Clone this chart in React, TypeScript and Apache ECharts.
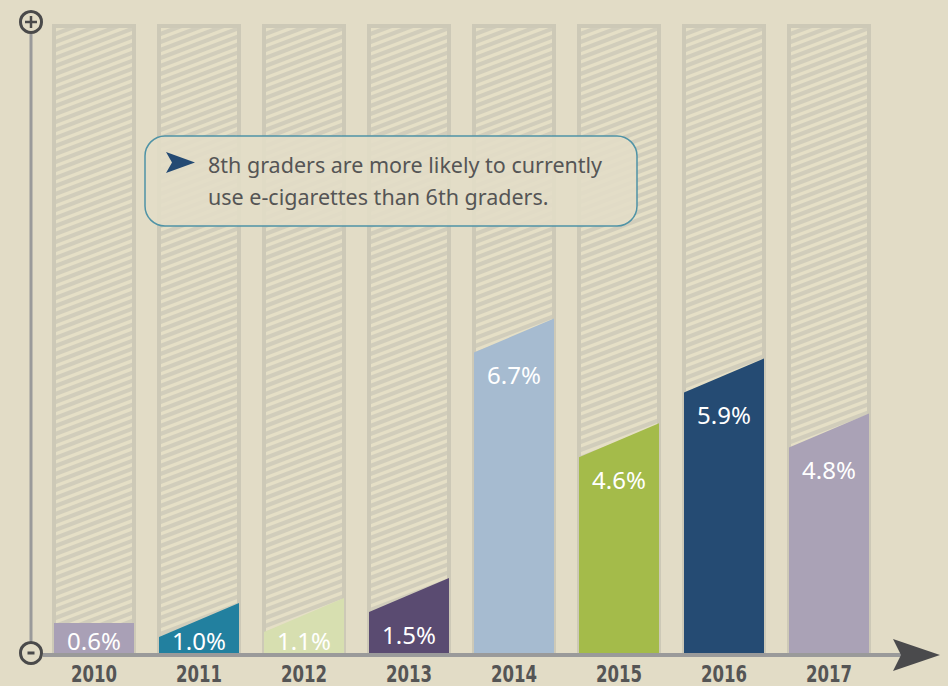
import React, { useEffect, useRef } from "react";
import * as echarts from "echarts";

const years = ["2010", "2011", "2012", "2013", "2014", "2015", "2016", "2017"];
const values = [0.6, 1.0, 1.1, 1.5, 6.7, 4.6, 5.9, 4.8];
const barColors = ["#a9a0b6", "#22809f", "#d7dfb0", "#5a4b71", "#a6bbd0", "#a4bb4a", "#254b73", "#aaa2b6"];
const yMax = 12.6;
const calloutLines = ["8th graders are more likely to currently", "use e-cigarettes than 6th graders."];

type Pt = number[];
function clipPoly(poly: Pt[], f: (p: Pt) => number): Pt[] {
  const out: Pt[] = [];
  for (let i = 0; i < poly.length; i++) {
    const a = poly[i];
    const b = poly[(i + 1) % poly.length];
    const fa = f(a);
    const fb = f(b);
    if (fa >= 0) out.push(a);
    if ((fa >= 0) !== (fb >= 0)) {
      const t = fa / (fa - fb);
      out.push([a[0] + (b[0] - a[0]) * t, a[1] + (b[1] - a[1]) * t]);
    }
  }
  return out;
}

export default function App() {
  const ref = useRef<HTMLDivElement>(null);
  useEffect(() => {
    if (!ref.current) return;
    const chart = echarts.init(ref.current, undefined, { renderer: "svg" });
    const slope = 0.38;
    const period = 8;
    const lightW = 3.6;

    const option: any = {
      animation: false,
      backgroundColor: "transparent",
      grid: { left: 41.5, right: 66.5, top: 24, bottom: 33 },
      xAxis: {
        type: "category",
        data: years,
        axisLine: { show: false },
        axisTick: { show: false },
        axisLabel: { show: false },
      },
      yAxis: { type: "value", min: 0, max: yMax, show: false },
      series: [
        {
          type: "custom",
          name: "columns",
          data: years.map((_, i) => [i, yMax]),
          encode: { x: 0, y: 1 },
          silent: true,
          clip: false,
          z: 1,
          renderItem: (params: any, api: any) => {
            const i = api.value(0);
            const topP = api.coord([i, api.value(1)]);
            const baseP = api.coord([i, 0]);
            const bw = api.size([1, 0])[0] * 0.8;
            const x0 = topP[0] - bw / 2;
            const children: any[] = [
              { type: "rect", shape: { x: x0, y: topP[1], width: bw, height: baseP[1] - topP[1] }, style: { fill: "#cdc9b7" } },
            ];
            const ix0 = x0 + 4;
            const ix1 = x0 + bw - 4;
            const iy0 = topP[1] + 4;
            const iy1 = baseP[1];
            children.push({ type: "rect", shape: { x: ix0, y: iy0, width: ix1 - ix0, height: iy1 - iy0 }, style: { fill: "#d1cdbb" } });
            const rectPoly: Pt[] = [[ix0, iy0], [ix1, iy0], [ix1, iy1], [ix0, iy1]];
            const g = (p: Pt) => p[1] + slope * (p[0] - ix0);
            const gMin = iy0;
            const gMax = iy1 + slope * (ix1 - ix0);
            for (let c = gMin - period; c < gMax; c += period) {
              let poly = clipPoly(rectPoly, (p) => g(p) - c);
              poly = clipPoly(poly, (p) => c + lightW - g(p));
              if (poly.length >= 3) {
                children.push({ type: "polygon", shape: { points: poly }, style: { fill: "#e5dfc6" } });
              }
            }
            children.push({
              type: "text",
              x: topP[0],
              y: baseP[1] + 20.5,
              scaleX: 0.72,
              style: {
                text: years[i],
                x: 0,
                y: 0,
                fill: "#555555",
                font: "bold 23px 'DejaVu Sans', sans-serif",
                lineHeight: 23,
                align: "center",
                verticalAlign: "middle",
                textAlign: "center",
                textVerticalAlign: "middle",
              },
            });
            return { type: "group", children };
          },
        },
        {
          type: "custom",
          name: "Current e-cigarette use",
          data: values.map((v, i) => [i, v]),
          encode: { x: 0, y: 1 },
          z: 2,
          renderItem: (params: any, api: any) => {
            const i = api.value(0);
            const v = api.value(1);
            const topP = api.coord([i, v]);
            const baseP = api.coord([i, 0]);
            const bw = api.size([1, 0])[0] * 0.8 - 4;
            const xl = topP[0] - bw / 2;
            const xr = topP[0] + bw / 2;
            const rightY = topP[1];
            const leftY = i === 0 ? rightY : Math.min(rightY + 34, baseP[1]);
            const ly = Math.min(rightY + 56, baseP[1] - 13);
            return {
              type: "group",
              children: [
                {
                  type: "polygon",
                  shape: { points: [[xl, baseP[1]], [xl, leftY], [xr, rightY], [xr, baseP[1]]] },
                  style: { fill: barColors[i] },
                },
                {
                  type: "text",
                  style: {
                    text: v.toFixed(1) + "%",
                    x: topP[0],
                    y: ly,
                    fill: "#ffffff",
                    font: "24px 'Noto Sans', Lato, sans-serif",
                    align: "center",
                    verticalAlign: "middle",
                    textAlign: "center",
                    textVerticalAlign: "middle",
                  },
                },
              ],
            };
          },
        },
      ],
      graphic: [
        { type: "line", z: 5, shape: { x1: 31, y1: 34, x2: 31, y2: 641 }, style: { stroke: "#9a9a9a", lineWidth: 3 } },
        { type: "line", z: 5, shape: { x1: 43, y1: 655, x2: 902, y2: 655 }, style: { stroke: "#9a9a9a", lineWidth: 4 } },
        { type: "polygon", z: 6, shape: { points: [[893, 639], [940, 655], [893, 671], [901, 655]] }, style: { fill: "#4a4a4c" } },
        { type: "circle", z: 6, shape: { cx: 31, cy: 22, r: 10.5 }, style: { fill: "none", stroke: "#4a4a4a", lineWidth: 3 } },
        { type: "line", z: 6, shape: { x1: 25, y1: 22, x2: 37, y2: 22 }, style: { stroke: "#4a4a4a", lineWidth: 2.5 } },
        { type: "line", z: 6, shape: { x1: 31, y1: 16, x2: 31, y2: 28 }, style: { stroke: "#4a4a4a", lineWidth: 2.5 } },
        { type: "circle", z: 6, shape: { cx: 31, cy: 653, r: 10.5 }, style: { fill: "#e2dcc6", stroke: "#4a4a4a", lineWidth: 3 } },
        { type: "line", z: 6, shape: { x1: 27.5, y1: 653, x2: 34.5, y2: 653 }, style: { stroke: "#4a4a4a", lineWidth: 3 } },
        {
          type: "rect",
          z: 10,
          shape: { x: 145, y: 136, width: 492, height: 90, r: 20 },
          style: { fill: "rgba(226,221,199,0.88)", stroke: "#4f93a6", lineWidth: 1.5 },
        },
        {
          type: "polygon",
          z: 11,
          shape: { points: [[166, 152], [195, 162.5], [166, 173], [172, 162.5]] },
          style: { fill: "#244a73" },
        },
        ...calloutLines.map((t, k) => ({
          type: "text",
          z: 11,
          x: 208,
          y: 164 + k * 32,
          style: {
            text: t,
            fill: "#555555",
            font: "21.5px 'Noto Sans', Lato, sans-serif",
            textAlign: "left",
            textVerticalAlign: "middle",
          },
        })),
      ],
    };
    chart.setOption(option);
    return () => chart.dispose();
  }, []);
  return (
    <div
      ref={ref}
      style={{ position: "fixed", left: 0, top: 0, width: 948, height: 686, background: "#e2dcc6" }}
    />
  );
}
